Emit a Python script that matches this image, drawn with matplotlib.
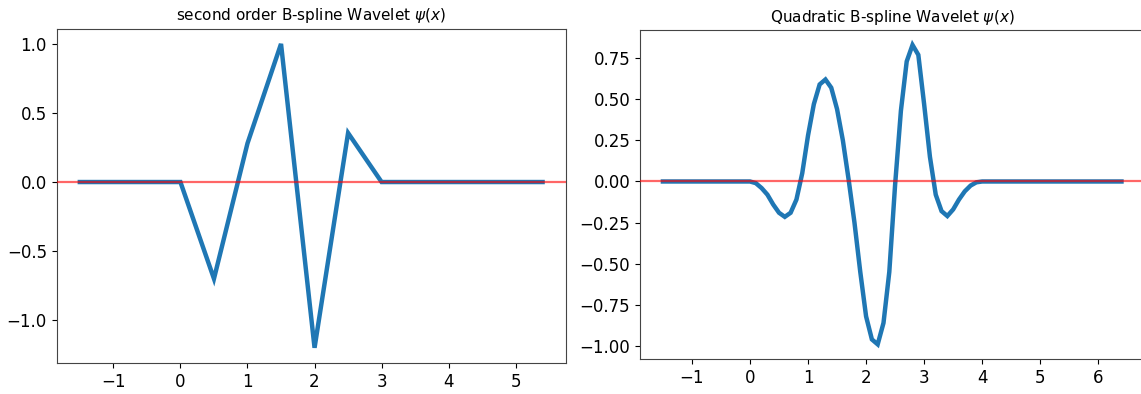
import numpy as np
import matplotlib
matplotlib.use("Agg")
import matplotlib.pyplot as plt

# Left: second order (linear) B-spline wavelet, breakpoints
x_lin = [-1.5, 0.0, 0.5, 1.0, 1.5, 2.0, 2.5, 3.0, 5.4]
y_lin = [0.0, 0.0, -0.70, 0.28, 1.00, -1.20, 0.355, 0.0, 0.0]

x_quad = [-1.5, 0.0, 0.1, 0.2, 0.3, 0.4, 0.5, 0.6, 0.7, 0.8, 0.9, 1.0, 1.1, 1.2,
          1.3, 1.4, 1.5, 1.6, 1.7, 1.8, 1.9, 2.0, 2.1, 2.2, 2.3, 2.4, 2.5, 2.6,
          2.7, 2.8, 2.9, 3.0, 3.1, 3.2, 3.3, 3.4, 3.5, 3.6, 3.7, 3.8, 3.9, 4.0, 6.4]
y_quad = [0.0, 0.0, -0.01, -0.04, -0.08, -0.14, -0.19, -0.215, -0.19, -0.11, 0.05,
          0.28, 0.47, 0.59, 0.62, 0.57, 0.44, 0.25, 0.01, -0.25, -0.55, -0.82,
          -0.96, -0.99, -0.86, -0.55, -0.02, 0.43, 0.73, 0.83, 0.77, 0.47, 0.15,
          -0.08, -0.18, -0.21, -0.17, -0.11, -0.06, -0.025, -0.005, 0.0, 0.0]

titles = ["second order B-spline Wavelet $\\psi(x)$",
          "Quadratic B-spline Wavelet $\\psi(x)$"]
left_yticks = [-1.0, -0.5, 0.0, 0.5, 1.0]
right_yticks = [-1.00, -0.75, -0.50, -0.25, 0.00, 0.25, 0.50, 0.75]

W, H = 1141, 394
fig = plt.figure(figsize=(W / 100, H / 100), dpi=100)

ax1 = fig.add_axes([56.7 / W, (H - 363) / H, (565.7 - 56.7) / W, (363 - 28.7) / H])
ax2 = fig.add_axes([640 / W, (H - 359.3) / H, (1144.4 - 640) / W, (359.3 - 30) / H])

for ax, xs, ys, title, yt, fmt in [
        (ax1, x_lin, y_lin, titles[0], left_yticks, "{:.1f}"),
        (ax2, x_quad, y_quad, titles[1], right_yticks, "{:.2f}")]:
    ax.plot(xs, ys, color="#1f77b4", linewidth=3.2, solid_joinstyle="miter", zorder=2)
    ax.axhline(0, color="red", linewidth=1.6, alpha=0.6, zorder=3)
    ax.set_title(title, fontsize=11)
    ax.set_yticks(yt)
    ax.set_yticklabels([fmt.format(v).replace("-", "\u2212") for v in yt])
    ax.tick_params(labelsize=12)
    for s in ax.spines.values():
        s.set_color("#444444")

ax1.set_xticks([-1, 0, 1, 2, 3, 4, 5])
ax2.set_xticks([-1, 0, 1, 2, 3, 4, 5, 6])

fig.savefig("out.png", dpi=100)
